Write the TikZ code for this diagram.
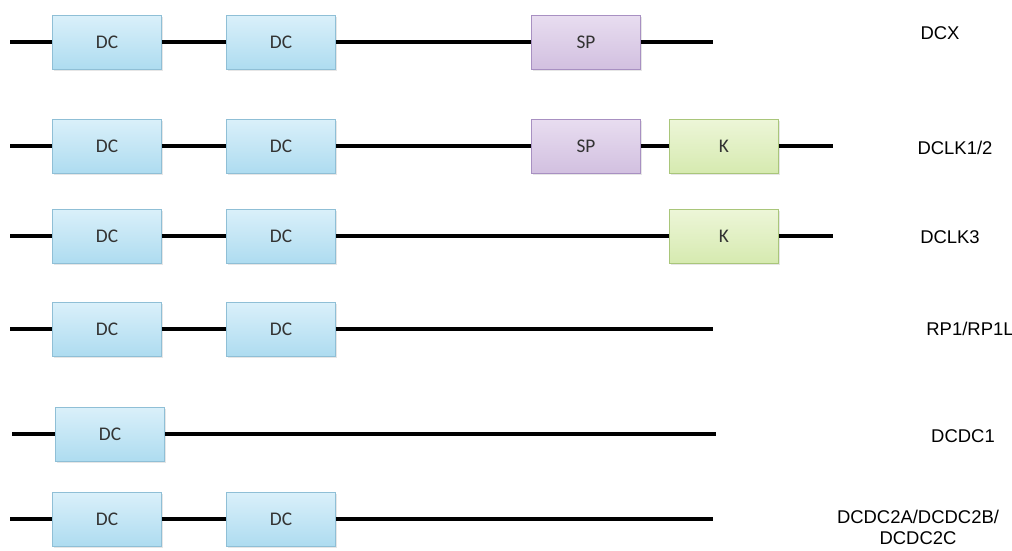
\documentclass[tikz,border=0pt]{standalone}
\usepackage{fontspec}
\setmainfont{Liberation Sans}
\newfontfamily\domfont{Carlito}
\usepackage{tikz}
\usetikzlibrary{positioning,shadows}
\definecolor{DCTop}{HTML}{DAF0FA}
\definecolor{DCBot}{HTML}{AEDCF0}
\definecolor{DCLine}{HTML}{8FBFD6}
\definecolor{SPTop}{HTML}{E8DDF0}
\definecolor{SPBot}{HTML}{D2C0E0}
\definecolor{SPLine}{HTML}{A890C2}
\definecolor{KTop}{HTML}{EDF6D8}
\definecolor{KBot}{HTML}{D6EAB0}
\definecolor{KLine}{HTML}{A9C67A}

\begin{document}
\begin{tikzpicture}[x=0.02cm, y=-0.02cm,
  dom/.style={rectangle, draw=#1Line, top color=#1Top, bottom color=#1Bot,
              minimum width=2.18cm, minimum height=1.08cm, inner sep=0pt,
              font=\domfont\fontsize{11}{12}\selectfont, text=black!80,
              drop shadow={opacity=0.2, shadow xshift=0.6pt, shadow yshift=-1pt}},
  chain/.style={line width=1.9pt, black},
  prot/.style={align=center, font=\fontsize{10.5}{12}\selectfont}
]
  \useasboundingbox (0,0) rectangle (1012,551);

  % DCX
  \coordinate (s1) at (10,42);
  \coordinate (e1) at (713,42);
  \node[dom=DC] (dc1a) at (107,42) {DC};
  \node[dom=DC] (dc1b) at (281,42) {DC};
  \node[dom=SP] (sp1) at (586,42) {SP};
  \draw[chain] (s1) -- (dc1a) (dc1a) -- (dc1b) (dc1b) -- (sp1) (sp1) -- (e1);
  \node[prot] (n1) at (940,33) {DCX};

  % DCLK1/2
  \coordinate (s2) at (10,146);
  \coordinate (e2) at (833,146);
  \node[dom=DC] (dc2a) at (107,146) {DC};
  \node[dom=DC] (dc2b) at (281,146) {DC};
  \node[dom=SP] (sp2) at (586,146) {SP};
  \node[dom=K] (k2) at (724,146) {K};
  \draw[chain] (s2) -- (dc2a) (dc2a) -- (dc2b) (dc2b) -- (sp2) (sp2) -- (k2) (k2) -- (e2);
  \node[prot] (n2) at (955,148) {DCLK1/2};

  % DCLK3
  \coordinate (s3) at (10,236);
  \coordinate (e3) at (833,236);
  \node[dom=DC] (dc3a) at (107,236) {DC};
  \node[dom=DC] (dc3b) at (281,236) {DC};
  \node[dom=K] (k3) at (724,236) {K};
  \draw[chain] (s3) -- (dc3a) (dc3a) -- (dc3b) (dc3b) -- (k3) (k3) -- (e3);
  \node[prot] (n3) at (950,237) {DCLK3};

  % RP1/RP1L
  \coordinate (s4) at (10,329);
  \coordinate (e4) at (713,329);
  \node[dom=DC] (dc4a) at (107,329) {DC};
  \node[dom=DC] (dc4b) at (281,329) {DC};
  \draw[chain] (s4) -- (dc4a) (dc4a) -- (dc4b) (dc4b) -- (e4);
  \node[prot] (n4) at (970,329) {RP1/RP1L};

  % DCDC1
  \coordinate (s5) at (12,434);
  \coordinate (e5) at (716,434);
  \node[dom=DC] (dc5a) at (110,434) {DC};
  \draw[chain] (s5) -- (dc5a) (dc5a) -- (e5);
  \node[prot] (n5) at (963,436) {DCDC1};

  % DCDC2A/B/C
  \coordinate (s6) at (10,519);
  \coordinate (e6) at (713,519);
  \node[dom=DC] (dc6a) at (107,519) {DC};
  \node[dom=DC] (dc6b) at (281,519) {DC};
  \draw[chain] (s6) -- (dc6a) (dc6a) -- (dc6b) (dc6b) -- (e6);
  \node[prot] (n6) at (918,527) {DCDC2A/DCDC2B/\\DCDC2C};
\end{tikzpicture}
\end{document}
